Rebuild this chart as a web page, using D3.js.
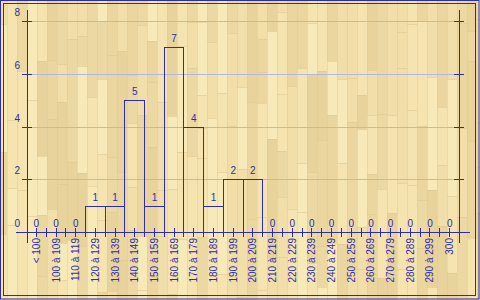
<!DOCTYPE html>
<html>
<head>
<meta charset="utf-8">
<script src="https://cdn.jsdelivr.net/npm/d3@7"></script>
<style>
  body { margin: 0; background: #fff; }
  svg { display: block; }
</style>
</head>
<body>
<svg id="chart" width="480" height="300" viewBox="0 0 480 300"></svg>
<script>
// classes de valeurs
const categories = [
  "< 100", "100 à 109", "110 à 119", "120 à 129", "130 à 139", "140 à 149",
  "150 à 159", "160 à 169", "170 à 179", "180 à 189", "190 à 199", "200 à 209",
  "210 à 219", "220 à 229", "230 à 239", "240 à 249", "250 à 259", "260 à 269",
  "270 à 279", "280 à 289", "290 à 299", "300"
];
const counts = [0, 0, 0, 1, 1, 5, 1, 7, 4, 1, 2, 2, 0, 0, 0, 0, 0, 0, 0, 0, 0, 0];
const yTicks = [0, 2, 4, 6, 8];

const blue = "#2e2eaa";
const gridCol = "#b3b6e6";
const font = "'Liberation Sans', Arial, sans-serif";

const svg = d3.select("#chart");
const W = 480, H = 300;

// wood parquet background (decoration only, deterministic)
const bg = svg.append("g").attr("class", "wood");
bg.append("rect").attr("width", W).attr("height", H).attr("fill", "#eedaa4");
const shades = ["#f5e4b0", "#ecd8a2", "#e9d39c", "#f1dea8", "#f8e9b8", "#ebd6a0"];
let seed = 7;
const lcg = () => { seed = (seed * 1103515245 + 12345) % 2147483648; return seed / 2147483648; };
for (let x = -3; x < W; x += 10) {
  let y = -Math.floor(lcg() * 60);
  while (y < H) {
    const len = 30 + Math.floor(lcg() * 100);
    bg.append("rect")
      .attr("x", x).attr("y", y)
      .attr("width", 10).attr("height", len)
      .attr("fill", shades[Math.floor(lcg() * shades.length)]);
    bg.append("line")
      .attr("x1", x).attr("x2", x + 10)
      .attr("y1", y + 0.5).attr("y2", y + 0.5)
      .attr("stroke", "#e0c98f").attr("stroke-width", 1).attr("opacity", 0.6);
    y += len;
  }
  bg.append("line")
    .attr("x1", x + 0.5).attr("x2", x + 0.5)
    .attr("y1", 0).attr("y2", H)
    .attr("stroke", "#e2cb91").attr("stroke-width", 1).attr("opacity", 0.5);
}

// frame
svg.append("rect").attr("x", 0.5).attr("y", 0.5).attr("width", 478.5).attr("height", 298.5)
  .attr("fill", "none").attr("stroke", blue);
svg.append("rect").attr("x", 3.5).attr("y", 3.5).attr("width", 472).attr("height", 292)
  .attr("fill", "none").attr("stroke", blue);

const xScale = d3.scaleBand().domain(categories).range([26, 459]).padding(0);
const yScale = d3.scaleLinear().domain([0, 8]).range([232, 21]);

const x0 = 27, x1 = 459;
const snap = (v) => Math.round(v) + 0.5;

// grid lines
svg.append("g").selectAll("line")
  .data(yTicks.filter((d) => d > 0))
  .join("line")
  .attr("x1", x0).attr("x2", x1)
  .attr("y1", (d) => snap(yScale(d))).attr("y2", (d) => snap(yScale(d)))
  .attr("stroke", gridCol);

// bars
const data = categories.map((c, i) => ({ cat: c, value: counts[i] }));
svg.append("g").selectAll("rect")
  .data(data.filter((d) => d.value > 0))
  .join("rect")
  .attr("x", (d) => snap(xScale(d.cat)))
  .attr("y", (d) => snap(yScale(d.value)))
  .attr("width", (d) => Math.round(xScale(d.cat) + xScale.bandwidth()) - Math.round(xScale(d.cat)))
  .attr("height", (d) => Math.round(yScale(0)) - Math.round(yScale(d.value)))
  .attr("fill", "none")
  .attr("stroke", blue);

// axes
const axes = svg.append("g").attr("stroke", blue).attr("fill", "none");
axes.append("line").attr("x1", snap(x0)).attr("x2", snap(x0)).attr("y1", 10).attr("y2", 243);
axes.append("line").attr("x1", snap(x1)).attr("x2", snap(x1)).attr("y1", 10).attr("y2", 243);
axes.append("line").attr("x1", 16).attr("x2", 470).attr("y1", snap(yScale(0))).attr("y2", snap(yScale(0)));

// y ticks, both sides
yTicks.filter((d) => d > 0).forEach((d) => {
  axes.append("line").attr("x1", 22).attr("x2", 32)
    .attr("y1", snap(yScale(d))).attr("y2", snap(yScale(d)));
  axes.append("line").attr("x1", 454).attr("x2", 464)
    .attr("y1", snap(yScale(d))).attr("y2", snap(yScale(d)));
});

// x ticks: band edges and centres
const tickXs = [];
categories.forEach((c) => {
  tickXs.push(xScale(c));
  tickXs.push(xScale(c) + xScale.bandwidth() / 2);
});
tickXs.slice(1).forEach((tx) => {
  axes.append("line").attr("x1", snap(tx)).attr("x2", snap(tx)).attr("y1", 228).attr("y2", 237);
});

// y labels
svg.append("g").selectAll("text")
  .data(yTicks)
  .join("text")
  .attr("x", 20)
  .attr("y", (d) => Math.round(yScale(d)) - 5)
  .attr("text-anchor", "end")
  .style("font-family", font)
  .style("font-size", "10px")
  .attr("fill", blue)
  .text((d) => d);

// value labels
svg.append("g").selectAll("text")
  .data(data)
  .join("text")
  .attr("x", (d) => xScale(d.cat) + xScale.bandwidth() / 2 + 0.5)
  .attr("y", (d) => Math.round(yScale(d.value)) - 5)
  .attr("text-anchor", "middle")
  .style("font-family", font)
  .style("font-size", "10px")
  .attr("fill", blue)
  .text((d) => d.value);

// category labels, rotated
svg.append("g").selectAll("text")
  .data(categories)
  .join("text")
  .attr("transform", (d) => `translate(${xScale(d) + xScale.bandwidth() / 2 + 0.5}, 238) rotate(-90)`)
  .attr("dy", "0.35em")
  .attr("text-anchor", "end")
  .style("font-family", font)
  .style("font-size", "10px")
  .attr("fill", blue)
  .text((d) => d);
</script>
</body>
</html>
